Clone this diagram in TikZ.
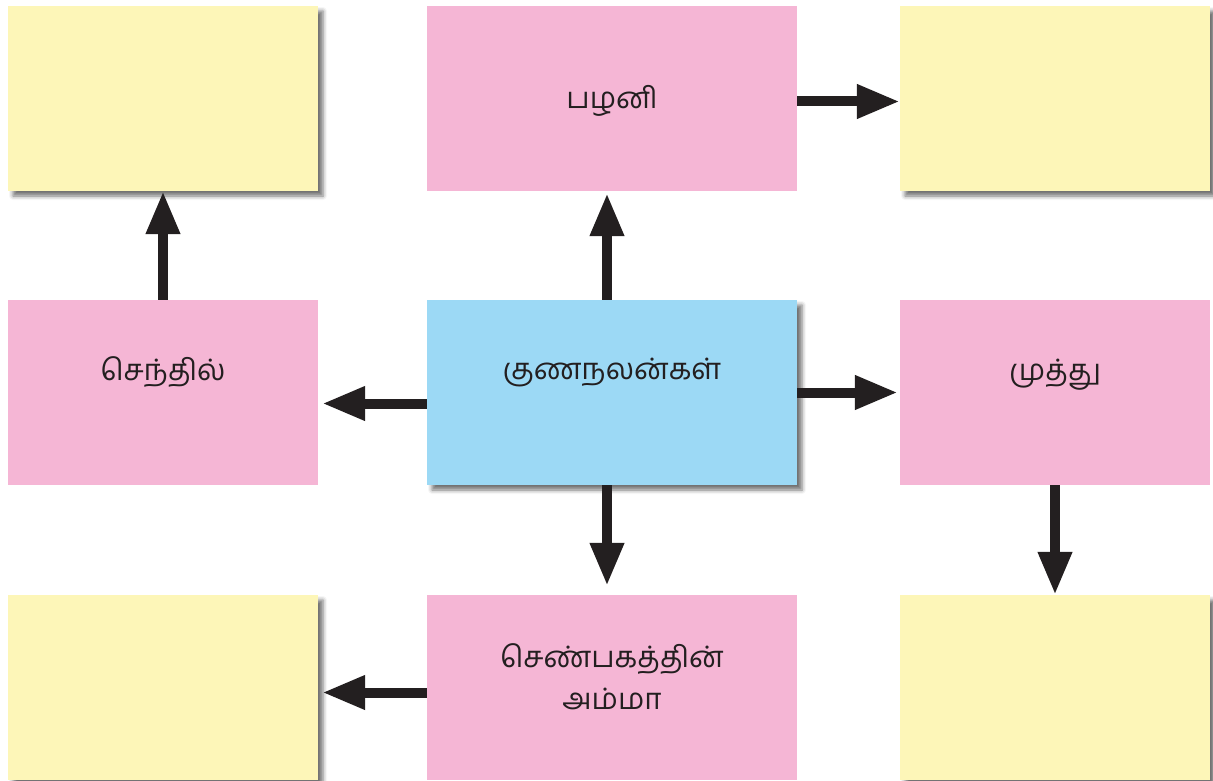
\documentclass[tikz,border=0pt]{standalone}
\usepackage{fontspec}
\newfontfamily\tamil[Script=Tamil]{Hind Madurai}
\usetikzlibrary{arrows.meta,shadows.blur}
\definecolor{pinkbox}{HTML}{F5B6D5}
\definecolor{yellowbox}{HTML}{FDF6B8}
\definecolor{bluebox}{HTML}{9CD9F5}
\definecolor{arrowc}{HTML}{231F20}
\tikzset{
  box/.style={rectangle, minimum width=310pt, minimum height=185pt, inner sep=0pt, draw=none},
  widebox/.style={minimum width=370pt},
  pinkb/.style={box, fill=pinkbox},
  yellowb/.style={box, fill=yellowbox, blur shadow={shadow xshift=5pt, shadow yshift=-5pt, shadow blur radius=4pt, shadow opacity=55}},
  blueb/.style={box, fill=bluebox, blur shadow={shadow xshift=5pt, shadow yshift=-5pt, shadow blur radius=4pt, shadow opacity=55}},
  txt/.style={font=\tamil\fontsize{29.5}{42}\selectfont, text=arrowc, align=center, inner sep=0pt},
  arr/.style={draw=arrowc, line width=10pt, -{Triangle[width=32pt,length=43pt]}}
}
\begin{document}
\begin{tikzpicture}[x=1pt,y=-1pt]
\useasboundingbox (0,0) rectangle (1213,781);
% boxes
\node[yellowb] (y1) at (163,98.5) {};
\node[pinkb,widebox] (palani) at (612,98.5) {};
\node[yellowb] (y2) at (1055,98.5) {};
\node[pinkb] (senthil) at (163,392.5) {};
\node[blueb,widebox] (center) at (612,392.5) {};
\node[pinkb] (muthu) at (1055,392.5) {};
\node[yellowb] (y3) at (163,687.5) {};
\node[pinkb,widebox] (amma) at (612,687.5) {};
\node[yellowb] (y4) at (1055,687.5) {};
% texts
\node[txt] (tpalani) at (612,101) {பழனி};
\node[txt] (tcenter) at (612,372) {குணநலன்கள்};
\node[txt] (tsenthil) at (163,372) {செந்தில்};
\node[txt] (tmuthu) at (1055,375) {முத்து};
\node[txt] (tamma) at (612,677) {செண்பகத்தின்\\அம்மா};
% arrows
\draw[arr] (senthil.north) -- (y1.south);
\draw[arr] ([xshift=-5pt]center.north) -- ([xshift=-5pt,yshift=-2pt]palani.south);
\draw[arr] ([yshift=-3pt]palani.east) -- ([yshift=-3pt]y2.west);
\draw[arr] ([yshift=-11pt]center.west) -- ([xshift=4pt,yshift=-11pt]senthil.east);
\draw[arr] (center.east) -- ([xshift=-2pt]muthu.west);
\draw[arr] ([xshift=-5pt]center.south) -- ([xshift=-5pt,yshift=9pt]amma.north);
\draw[arr] (muthu.south) -- (y4.north);
\draw[arr] ([yshift=-5pt]amma.west) -- ([xshift=4pt,yshift=-5pt]y3.east);
\end{tikzpicture}
\end{document}
